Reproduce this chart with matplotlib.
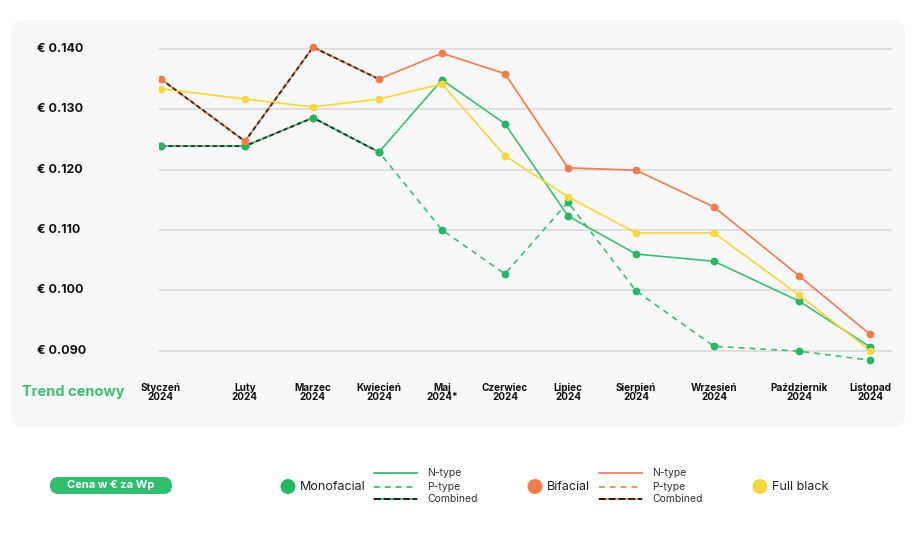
import matplotlib
matplotlib.use("Agg")
import matplotlib.pyplot as plt
from matplotlib.patches import FancyBboxPatch, Circle
from matplotlib.transforms import blended_transform_factory

# ---------------- data ----------------
months = ["Styczeń\n2024", "Luty\n2024", "Marzec\n2024", "Kwiecień\n2024", "Maj\n2024*",
          "Czerwiec\n2024", "Lipiec\n2024", "Sierpień\n2024", "Wrzesień\n2024",
          "Październik\n2024", "Listopad\n2024"]
mono_n = [0.1239, 0.1239, 0.1286, 0.1229, 0.1349, 0.1276, 0.1123, 0.1060, 0.1048, 0.0982, 0.0906]
mono_p = [0.1239, 0.1239, 0.1286, 0.1229, 0.1100, 0.1027, 0.1146, 0.0999, 0.0907, 0.0899, 0.0884]
mono_comb = [0.1239, 0.1239, 0.1286, 0.1229]
bif_n = [0.1350, 0.1247, 0.1403, 0.1350, 0.1393, 0.1359, 0.1203, 0.1199, 0.1138, 0.1024, 0.0927]
bif_p = [0.1350, 0.1247, 0.1403, 0.1350]
bif_comb = [0.1350, 0.1247, 0.1403, 0.1350]
full_black = [0.1334, 0.1317, 0.1304, 0.1317, 0.1342, 0.1223, 0.1155, 0.1095, 0.1095, 0.0992, 0.0900]
y_ticks = [0.090, 0.100, 0.110, 0.120, 0.130, 0.140]
y_tick_labels = ["€ 0.090", "€ 0.100", "€ 0.110", "€ 0.120", "€ 0.130", "€ 0.140"]

# ---------------- layout / style ----------------
month_offsets = [0, 84, 152, 218, 281, 344, 407, 475, 553, 638, 709]  # category spacing
GREEN = "#3dbf74"
GREEN_DOT = "#25b863"
ORANGE = "#f47b4a"
YELLOW = "#f6d83b"
PANEL = "#f7f7f7"
GRID = "#d8d8d8"
TXT = "#111111"

plt.rcParams["font.family"] = ["Inter", "DejaVu Sans"]

W, H = 921, 537
fig = plt.figure(figsize=(W / 100, H / 100), dpi=100)
fig.patch.set_facecolor("white")

# overlay axes in pixel coords
bg = fig.add_axes([0, 0, 1, 1], zorder=0)
bg.set_xlim(0, W)
bg.set_ylim(H, 0)
bg.axis("off")
bg.add_patch(FancyBboxPatch((11, 20), 894, 407,
                            boxstyle="round,pad=0,rounding_size=12",
                            fc=PANEL, ec="none"))

# main axes
top_px, bot_px = 40, 365
left_px, right_px = 159, 892
ax = fig.add_axes([left_px / W, (H - bot_px) / H, (right_px - left_px) / W, (bot_px - top_px) / H],
                  zorder=1)
ax.set_facecolor("none")
ax.set_xlim(-2, 731)
ax.set_ylim(0.0876, 0.14149)
for s in ax.spines.values():
    s.set_visible(False)
ax.set_xticks([])
ax.set_yticks([])
for v in y_ticks:
    ax.axhline(v, color=GRID, lw=1.1, zorder=1)

x = month_offsets
lw = 1.2
ms = 4.6
# monofacial
ax.plot(x, mono_n, color=GREEN, lw=lw, zorder=3)
ax.plot(x, mono_p, color=GREEN, lw=lw, ls=(0, (3.5, 3)), zorder=3)
ax.plot(x[:len(mono_comb)], mono_comb, color="#333333", lw=lw + 0.2, ls=(0, (2.2, 1.6)), zorder=4)
# bifacial
ax.plot(x, bif_n, color=ORANGE, lw=lw, zorder=3)
ax.plot(x[:len(bif_p)], bif_p, color=ORANGE, lw=lw, ls=(0, (3.5, 3)), zorder=3)
ax.plot(x[:len(bif_comb)], bif_comb, color="#333333", lw=lw + 0.2, ls=(0, (2.2, 1.6)), zorder=4)
# full black
ax.plot(x, full_black, color=YELLOW, lw=lw, zorder=3)

# markers
for ys, c in [(mono_n, GREEN_DOT), (mono_p, GREEN_DOT), (bif_n, ORANGE), (full_black, YELLOW)]:
    ax.plot(x, ys, ls="none", marker="o", ms=ms, mfc=c, mec=c, zorder=5)

# y labels
tr = blended_transform_factory(fig.transFigure, ax.transData)
for v, lab in zip(y_ticks, y_tick_labels):
    ax.text(37 / W, v, lab, transform=tr, ha="left", va="center",
            fontsize=9, fontweight="bold", color=TXT)

# x labels
trx = blended_transform_factory(ax.transData, fig.transFigure)
for xi, lab in zip(x, months):
    ax.text(xi, 1 - 392.5 / H, lab, transform=trx, ha="center", va="center",
            fontsize=7.2, fontweight="bold", color=TXT, linespacing=0.85)

bg.text(22, 392, "Trend cenowy", ha="left", va="center", fontsize=10.5,
        fontweight="bold", color=GREEN)

# ---------------- legend ----------------
bg.add_patch(FancyBboxPatch((50, 477), 122, 17, boxstyle="round,pad=0,rounding_size=8.5",
                            fc="#2fbf6e", ec="none"))
bg.text(111, 485.5, "Cena w € za Wp", ha="center", va="center", fontsize=8,
        fontweight="bold", color="white")


def legend_group(cx, label, color, lx0=None, with_lines=True):
    bg.add_patch(Circle((cx, 486.5), 7.5, fc=color, ec="none"))
    bg.text(cx + 12, 487, label, ha="left", va="center", fontsize=9, color="#222222")
    if with_lines:
        lx1 = lx0 + 43
        bg.plot([lx0, lx1], [473, 473], color=color, lw=lw)
        bg.plot([lx0, lx1], [486.5, 486.5], color=color, lw=lw, ls=(0, (3.5, 3)))
        bg.plot([lx0, lx1], [498.5, 498.5], color=color, lw=lw)
        bg.plot([lx0, lx1], [498.5, 498.5], color="#222222", lw=lw + 0.2, ls=(0, (3.5, 1.5)))
        for yy, t in [(472.5, "N-type"), (486.5, "P-type"), (498.5, "Combined")]:
            bg.text(lx1 + 10, yy, t, ha="left", va="center", fontsize=7.5, color="#333333")


legend_group(288, "Monofacial", GREEN_DOT, 374)
legend_group(535, "Bifacial", ORANGE, 599)
legend_group(760, "Full black", YELLOW, with_lines=False)

fig.savefig("out.png", dpi=100, facecolor="white")
